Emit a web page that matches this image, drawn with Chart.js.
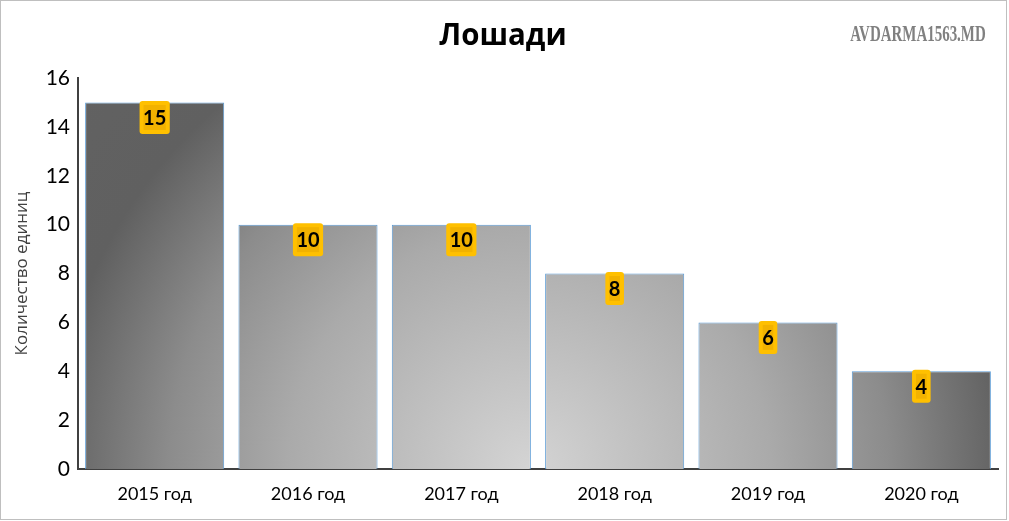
<!DOCTYPE html>
<html><head><meta charset="utf-8">
<script src="https://cdn.jsdelivr.net/npm/chart.js@4/dist/chart.umd.min.js"></script>
<style>
html,body{margin:0;padding:0;background:#fff;}
#wrap{position:relative;width:1009px;height:521px;}
#frame{position:absolute;left:0;top:0;width:1005px;height:518px;border:1px solid #bfbfbf;pointer-events:none;}
</style></head>
<body><div id="wrap"><canvas id="c" width="1009" height="521"></canvas><div id="frame"></div></div>
<script>
const categories = ["2015 год","2016 год","2017 год","2018 год","2019 год","2020 год"];
const values = [15,10,10,8,6,4];
const yTicks = [0,2,4,6,8,10,12,14,16];
const titleText = "Лошади";
const watermark = "AVDARMA1563.MD";
const yTitle = "Количество единиц";

function barFill(ctx){
  const chart = ctx.chart; const a = chart.chartArea;
  if(!a) return '#999';
  const cx = a.left + (a.right-a.left)*0.49, cy = a.bottom;
  const g = chart.ctx.createRadialGradient(cx,cy,0,cx,cy,620);
  g.addColorStop(0,'#d4d4d4');
  g.addColorStop(0.39,'#aaaaaa');
  g.addColorStop(0.58,'#8c8c8c');
  g.addColorStop(0.77,'#606060');
  g.addColorStop(1,'#626262');
  return g;
}

const deco = {
  id:'deco',
  afterDraw(chart){
    const c = chart.ctx;
    c.save();
    c.fillStyle='#000';
    c.font='bold 31px "Open Sans", "Liberation Sans", sans-serif';
    c.textAlign='center'; c.textBaseline='middle';
    c.save(); c.translate(503,36); c.scale(0.95,1); c.fillText(titleText,0,0); c.restore();
    c.fillStyle='#808080';
    c.font='bold 23px "Liberation Serif", "DejaVu Serif", serif';
    c.save(); c.translate(918,35); c.scale(0.65,1); c.fillText(watermark,0,0); c.restore();
    c.restore();
  },
  afterDatasetsDraw(chart){
    const c = chart.ctx; const meta = chart.getDatasetMeta(0);
    c.save();
    c.font='bold 20px Lato, "Open Sans", sans-serif';
    c.textAlign='center'; c.textBaseline='middle';
    meta.data.forEach((el,i)=>{
      const txt = String(values[i]);
      const tw = c.measureText(txt).width;
      const w = tw+7, h = 33;
      const x = el.x, y = el.y+15;
      c.fillStyle='#ffc000';
      c.beginPath(); c.roundRect(x-w/2,y-h/2,w,h,3); c.fill();
      c.fillStyle='#f2b200';
      c.fillRect(x-w/2+4,y-h/2+4,w-8,h-8);
      c.fillStyle='#000';
      c.fillText(txt,x,y+1);
    });
    c.restore();
  }
};

new Chart(document.getElementById('c'),{
  type:'bar',
  data:{labels:categories,datasets:[{data:values,backgroundColor:barFill,borderColor:'#5b9bd5',borderWidth:1,barPercentage:0.907,categoryPercentage:1}]},
  options:{
    responsive:false,animation:false,
    layout:{padding:{top:78,right:11,bottom:0,left:0}},
    plugins:{legend:{display:false},tooltip:{enabled:false}},
    scales:{
      x:{grid:{display:false,drawTicks:false},border:{display:true,color:'#404040',width:2},
        ticks:{color:'#000',font:{family:'Lato, "Open Sans", sans-serif',size:18},padding:14},
        afterFit(s){s.height=52;}},
      y:{min:0,max:16,afterBuildTicks(s){s.ticks=yTicks.map(v=>({value:v}));},
        grid:{display:false,drawTicks:false},border:{display:true,color:'#404040',width:2},
        ticks:{color:'#000',font:{family:'Lato, "Open Sans", sans-serif',size:21},padding:8},
        title:{display:true,text:yTitle,color:'#404040',font:{family:'"Open Sans", sans-serif',size:17},padding:{top:12,bottom:4}},
        afterFit(s){s.width=78;}}
    }
  },
  plugins:[deco]
});
</script></body></html>
